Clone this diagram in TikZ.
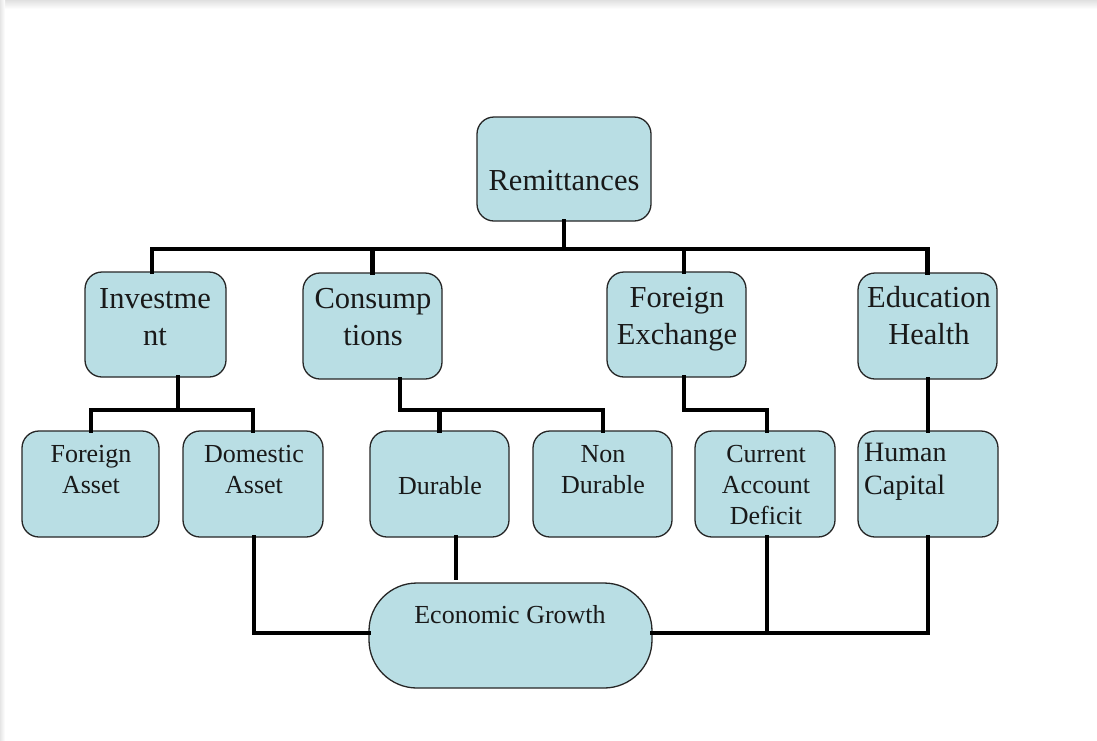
\documentclass[tikz,border=0pt]{standalone}
\usepackage{fontspec}
\setmainfont{Liberation Serif}
\begin{document}
\begin{tikzpicture}[x=1pt,y=-1pt,
  box/.style={draw=black!85, line width=1.3pt, fill=boxfill, rounded corners=17pt, inner sep=0pt},
  conn/.style={line width=4.5pt, line cap=rect},
  big/.style={font=\fontsize{30.5}{37}\selectfont, align=center, inner sep=0pt, text=black!90},
  small/.style={font=\fontsize{26}{31}\selectfont, align=center, inner sep=0pt, text=black!90}]
\definecolor{boxfill}{RGB}{185,222,228}
\useasboundingbox (0,0) rectangle (1097,740);
\fill[white] (0,0) rectangle (1097,740);
\shade[top color=black!12, bottom color=white] (0,0) rectangle (1097,9);
\shade[left color=black!10, right color=white] (0,0) rectangle (5,740);

% boxes
\node[box, minimum width=174pt, minimum height=104pt] (rem) at (564,169) {};
\node[box, minimum width=141pt, minimum height=105pt] (inv) at (155.5,324.5) {};
\node[box, minimum width=139pt, minimum height=106pt] (cons) at (372.5,326) {};
\node[box, minimum width=139pt, minimum height=105pt] (fx) at (676.5,324.5) {};
\node[box, minimum width=139pt, minimum height=106pt] (edu) at (927.5,326) {};
\node[box, minimum width=137pt, minimum height=106pt] (fa) at (90.5,484) {};
\node[box, minimum width=140pt, minimum height=106pt] (da) at (253,484) {};
\node[box, minimum width=139pt, minimum height=106pt] (dur) at (439.5,484) {};
\node[box, minimum width=139pt, minimum height=106pt] (nd) at (602.5,484) {};
\node[box, minimum width=140pt, minimum height=106pt] (cad) at (765,484) {};
\node[box, minimum width=140pt, minimum height=106pt] (hc) at (928,484) {};
\node[box, rounded corners=48pt, minimum width=283pt, minimum height=105pt] (eg) at (510.5,635.5) {};

% texts
\node[big] (tRem) at (564,181) {Remittances};
\node[big] (tInv) at (155,317) {Investme\\nt};
\node[big] (tCons) at (373,317) {Consump\\tions};
\node[big] (tFx) at (677,319) {Foreign\\Exchange};
\node[big] (tEdu) at (929,316) {Education\\Health};
\node[small] (tFa) at (91,470) {Foreign\\Asset};
\node[small] (tDa) at (254,470) {Domestic\\Asset};
\node[small] (tDur) at (440,486) {Durable};
\node[small] (tNd) at (603,470) {Non\\Durable};
\node[small] (tCad) at (766,485) {Current\\Account\\Deficit};
\node[small, align=left, anchor=west, font=\fontsize{28}{33}\selectfont] (tHc) at (864,472) {Human\\Capital};
\node[small] (tEg) at (510,615) {Economic Growth};

% coordinates
\coordinate (bus) at (0,249);
\coordinate (bus2) at (0,410);
\coordinate (bus3) at (0,633);

% top level
\draw[conn] (rem.south) -- (rem.south |- bus);
\draw[conn] (inv.north -| 152,0) -- (152,249) -- (edu.north |- bus) -- (edu.north);
\draw[conn] (cons.north) -- (cons.north |- bus);
\draw[conn] (fx.north -| 684,0) -- (684,249);

% investment
\draw[conn] (inv.south -| 178,0) -- (178,410);
\draw[conn] (fa.north -| 91,0) -- (91,410) -- (253,410) -- (da.north);

% consumptions
\draw[conn] (cons.south -| 400,0) -- (400,410) -- (603,410) -- (nd.north -| 603,0);
\draw[conn] (dur.north) -- (dur.north |- bus2);

% foreign exchange
\draw[conn] (fx.south -| 684,0) -- (684,410) -- (767,410) -- (cad.north -| 767,0);

% education
\draw[conn] (edu.south -| 928,0) -- (hc.north -| 928,0);

% economic growth
\draw[conn] (da.south -| 254,0) -- (254,633) -- (eg.west |- bus3);
\draw[conn] (dur.south -| 456,0) -- (456,578);
\draw[conn] (eg.east |- bus3) -- (928,633) -- (hc.south -| 928,0);
\draw[conn] (cad.south -| 767,0) -- (767,633);
\end{tikzpicture}
\end{document}
